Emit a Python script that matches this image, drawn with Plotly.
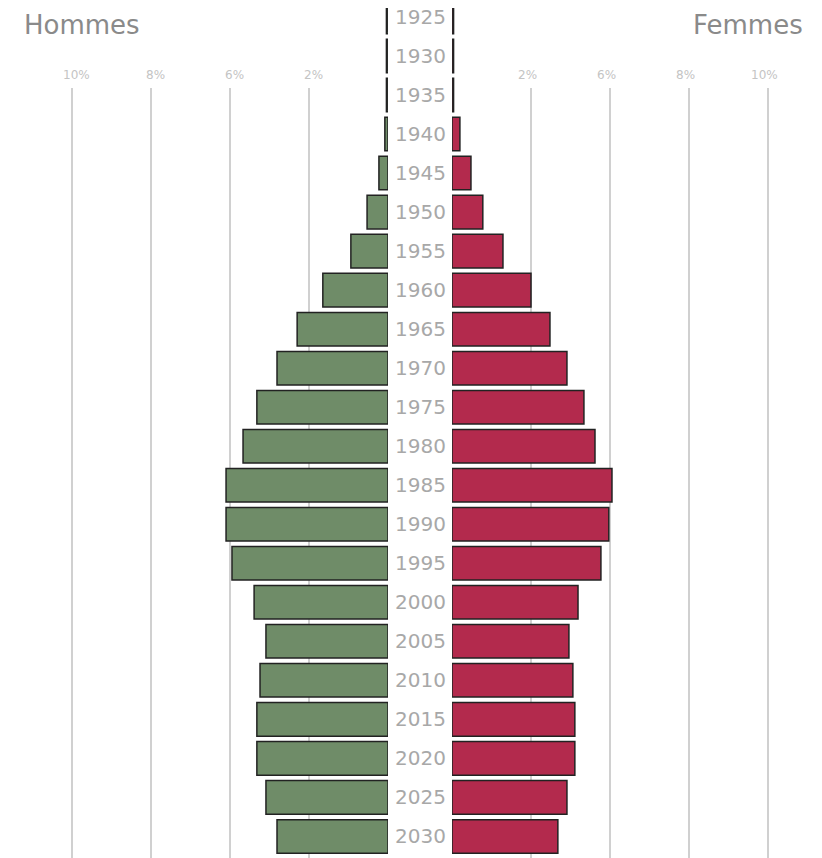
import plotly.graph_objects as go

years = ["1925", "1930", "1935", "1940", "1945", "1950", "1955", "1960", "1965", "1970", "1975",
         "1980", "1985", "1990", "1995", "2000", "2005", "2010", "2015", "2020", "2025", "2030"]
hommes = [0.04, 0.04, 0.04, 0.08, 0.23, 0.53, 0.94, 1.65, 2.30, 2.81, 3.32,
          3.67, 4.10, 4.10, 3.95, 3.39, 3.09, 3.24, 3.32, 3.32, 3.09, 2.81]
femmes = [0.04, 0.04, 0.04, 0.20, 0.48, 0.78, 1.29, 2.00, 2.48, 2.91, 3.34,
          3.62, 4.05, 3.97, 3.77, 3.19, 2.96, 3.06, 3.11, 3.11, 2.91, 2.68]
grid_vals = [2, 4, 6, 8]
left_tick_text = ["2%", "6%", "8%", "10%"]
right_tick_text = ["2%", "6%", "8%", "10%"]

# page is offset by the 8px body margin; figure coordinates = page - 8
OFF = 8
W, H = 822 - OFF, 858 - OFF
PX_PER_PCT = 39.5
left_edge = 388 - OFF
right_edge = 452 - OFF
ROW = 39.02
top_val = -(17 - OFF) / ROW
bottom_val = top_val + H / ROW

fig = go.Figure()
fig.add_trace(go.Bar(
    y=years, x=hommes, orientation="h", xaxis="x", yaxis="y", name="Hommes",
    marker=dict(color="#6f8c68", line=dict(color="#222222", width=1.5)),
))
fig.add_trace(go.Bar(
    y=years, x=femmes, orientation="h", xaxis="x2", yaxis="y", name="Femmes",
    marker=dict(color="#b32a4d", line=dict(color="#222222", width=1.5)),
))

shapes = []
annotations = []
grid_top = 1 - (88 - OFF) / H
label_y = 1 - (75 - OFF) / H
for v, t in zip(grid_vals, left_tick_text):
    shapes.append(dict(type="line", xref="x", yref="paper", x0=v, x1=v, y0=0, y1=grid_top,
                       line=dict(color="#d0d0d0", width=2), layer="below"))
    annotations.append(dict(xref="x", yref="paper", x=v, y=label_y, text=t, showarrow=False,
                            font=dict(family="DejaVu Sans", size=12, color="#c4c4c4"),
                            xanchor="center", yanchor="middle", xshift=4))
for v, t in zip(grid_vals, right_tick_text):
    shapes.append(dict(type="line", xref="x2", yref="paper", x0=v, x1=v, y0=0, y1=grid_top,
                       line=dict(color="#d0d0d0", width=2), layer="below"))
    annotations.append(dict(xref="x2", yref="paper", x=v, y=label_y, text=t, showarrow=False,
                            font=dict(family="DejaVu Sans", size=12, color="#c4c4c4"),
                            xanchor="center", yanchor="middle", xshift=-4))

for i, yr in enumerate(years):
    annotations.append(dict(xref="paper", yref="y", x=(left_edge + right_edge) / 2 / W, y=i,
                            text=yr, showarrow=False, xanchor="center", yanchor="middle",
                            font=dict(family="DejaVu Sans", size=20, color="#a8a8a8")))

annotations.append(dict(xref="paper", yref="paper", x=(22 - OFF) / W, y=1 - (25 - OFF) / H,
                        text="Hommes", showarrow=False, xanchor="left", yanchor="middle",
                        font=dict(family="DejaVu Sans", size=26, color="#8a8a8a")))
annotations.append(dict(xref="paper", yref="paper", x=(805 - OFF) / W, y=1 - (25 - OFF) / H,
                        text="Femmes", showarrow=False, xanchor="right", yanchor="middle",
                        font=dict(family="DejaVu Sans", size=26, color="#8a8a8a")))

fig.update_layout(
    width=W, height=H,
    margin=dict(l=0, r=0, t=0, b=0),
    paper_bgcolor="white", plot_bgcolor="white",
    showlegend=False,
    bargap=0.14,
    xaxis=dict(domain=[0, left_edge / W], range=[left_edge / PX_PER_PCT, 0],
               showgrid=False, zeroline=False, showticklabels=False, fixedrange=True),
    xaxis2=dict(domain=[right_edge / W, 1], range=[0, (W - right_edge) / PX_PER_PCT],
                showgrid=False, zeroline=False, showticklabels=False, fixedrange=True),
    yaxis=dict(type="category", categoryorder="array", categoryarray=years,
               range=[bottom_val, top_val], showgrid=False, zeroline=False,
               showticklabels=False, fixedrange=True),
    shapes=shapes,
    annotations=annotations,
)

fig.write_html("out.html")
